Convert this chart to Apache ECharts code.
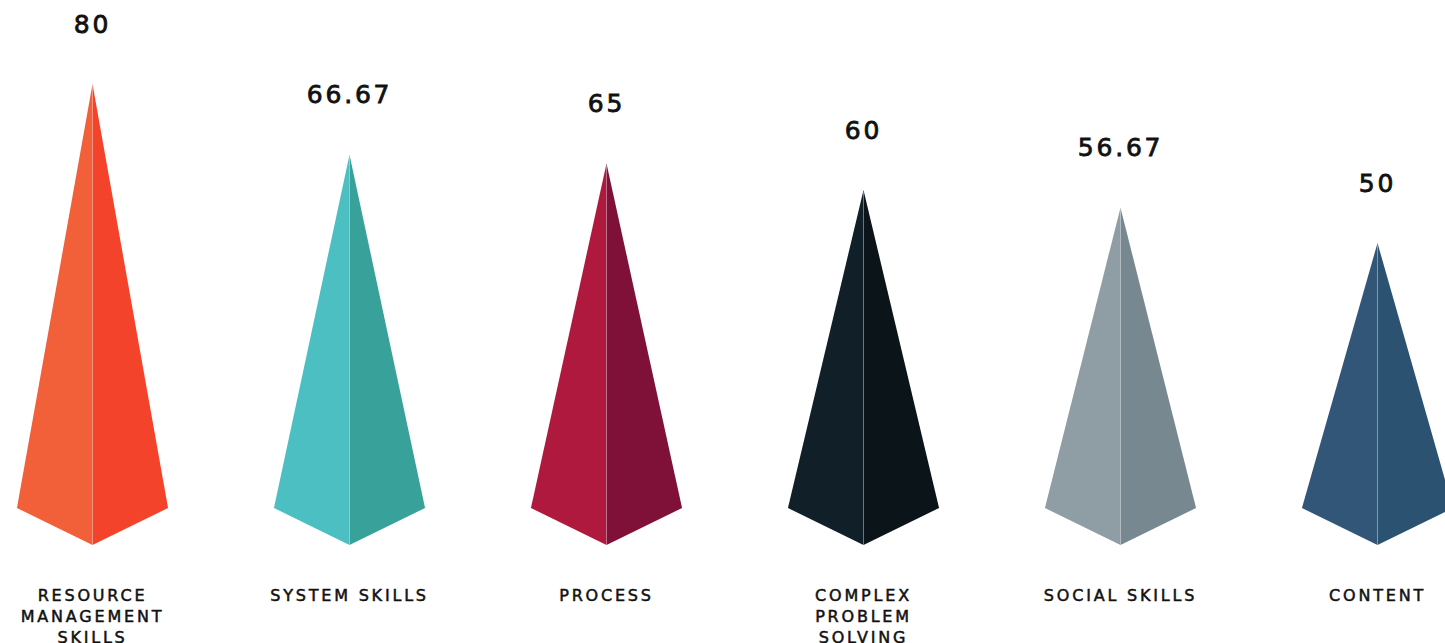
<!DOCTYPE html>
<html>
<head>
<meta charset="utf-8">
<script src="https://cdn.jsdelivr.net/npm/echarts@6/dist/echarts.min.js"></script>
<style>
  html, body { margin: 0; padding: 0; background: #ffffff; overflow: hidden; }
  #chart { width: 1445px; height: 643px; }
  /* opened-up lettering for all chart text */
  #chart svg text { letter-spacing: 2.8px; }
</style>
</head>
<body>
<div id="chart"></div>
<script>
// Skill categories and their scores
const categories = [
  'RESOURCE\nMANAGEMENT\nSKILLS',
  'SYSTEM SKILLS',
  'PROCESS',
  'COMPLEX\nPROBLEM\nSOLVING',
  'SOCIAL SKILLS',
  'CONTENT'
];
const scores = [80, 66.67, 65, 60, 56.67, 50];

// Two shades per pyramid: lit left face, shaded right face
const leftFaces  = ['#F2603A', '#4BBFC1', '#B0193E', '#111F28', '#8F9DA4', '#325677'];
const rightFaces = ['#F3432B', '#38A29A', '#7F1038', '#0B1419', '#788890', '#2C5272'];

const FONT = '"DejaVu Sans", sans-serif';
const INK = '#111111';

function renderPyramid(params, api) {
  const i = api.value(0);
  const v = api.value(1);
  const top = api.coord([i, v]);
  const base = api.coord([i, 0]);
  const band = api.size([1, 0])[0];
  const half = band * 0.294;
  const drop = 37;
  const cx = base[0];
  const by = base[1];
  return {
    type: 'group',
    children: [
      {
        type: 'polygon',
        shape: { points: [[cx, top[1]], [cx - half, by], [cx, by + drop]] },
        style: { fill: leftFaces[i] }
      },
      {
        type: 'polygon',
        shape: { points: [[cx, top[1]], [cx + half, by], [cx, by + drop]] },
        style: { fill: rightFaces[i] }
      },
      {
        type: 'line',
        shape: { x1: cx, y1: top[1] + 2, x2: cx, y2: by + drop },
        style: { stroke: 'rgba(255,255,255,0.35)', lineWidth: 0.6 }
      },
      {
        type: 'text',
        x: cx,
        y: top[1] - 60,
        style: {
          text: String(v),
          fill: INK,
          stroke: INK,
          lineWidth: 0.8,
          font: '25px ' + FONT,
          align: 'center',
          verticalAlign: 'middle'
        }
      }
    ]
  };
}

const chart = echarts.init(document.getElementById('chart'), null, { renderer: 'svg' });
chart.setOption({
  backgroundColor: '#ffffff',
  animation: false,
  grid: {
    left: -36, right: -61, top: 31, bottom: 135,
    containLabel: false,
    outerBoundsMode: 'none'
  },
  xAxis: {
    type: 'category',
    data: categories,
    axisLine: { show: false },
    axisTick: { show: false },
    axisLabel: {
      interval: 0,
      margin: 77,
      color: INK,
      textBorderColor: INK,
      textBorderWidth: 0.5,
      fontFamily: FONT,
      fontSize: 16,
      lineHeight: 21,
      verticalAlign: 'top',
      hideOverlap: false
    }
  },
  yAxis: {
    type: 'value',
    min: 0,
    max: 90,
    show: false,
    splitLine: { show: false }
  },
  series: [{
    type: 'custom',
    renderItem: renderPyramid,
    clip: false,
    encode: { x: 0, y: 1 },
    data: scores.map((s, i) => [i, s])
  }]
});
</script>
</body>
</html>
